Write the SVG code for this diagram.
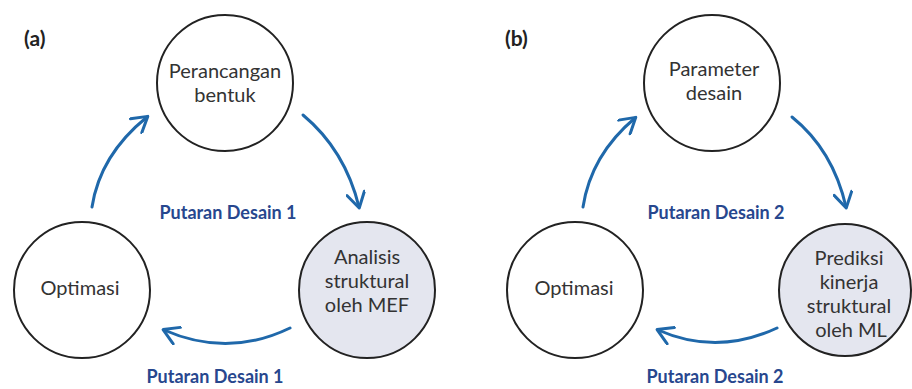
<svg xmlns="http://www.w3.org/2000/svg" width="912" height="389" viewBox="0 0 912 389">
  <style>
    .node { fill: #ffffff; stroke: #222222; stroke-width: 2; }
    .node.shaded { fill: #e4e6ef; }
    .ntxt { font-family: Lato, "Open Sans", sans-serif; font-size: 20px; fill: #333333; text-anchor: middle; }
    .panel { font-family: Lato, "Open Sans", sans-serif; font-size: 21px; font-weight: bold; fill: #222222; }
    .loop { font-family: Lato, "Open Sans", sans-serif; font-size: 18px; font-weight: bold; fill: #27478e; text-anchor: middle; }
    .arc { fill: none; stroke: #1f68aa; stroke-width: 3; stroke-linecap: round; marker-end: url(#chev); }
  </style>
  <defs>
    <marker id="chev" viewBox="0 0 20 20" refX="17" refY="10" markerWidth="20" markerHeight="20" markerUnits="userSpaceOnUse" orient="auto">
      <path d="M3,1 L18,10 L3,19" fill="none" stroke="#1f68aa" stroke-width="3" stroke-linecap="round" stroke-linejoin="round"/>
    </marker>
  </defs>
  <rect width="912" height="389" fill="#ffffff"/>

  <!-- panel labels -->
  <text class="panel" x="24" y="46">(a)</text>
  <text class="panel" x="505" y="46">(b)</text>

  <!-- connectors -->
  <g id="connectors">
    <path class="arc" d="M92,207 Q100,155 147,117"/>
    <path class="arc" d="M303,115 Q345,150 359,207"/>
    <path class="arc" d="M290,328 Q228,358 164,330"/>
    <path class="arc" d="M583,207 Q591,155 635,118"/>
    <path class="arc" d="M792,117 Q833,150 846,207"/>
    <path class="arc" d="M777,328 Q717,356 658,330"/>
  </g>

  <!-- loop labels -->
  <g id="labels">
    <text class="loop" x="228" y="219">Putaran Desain 1</text>
    <text class="loop" x="215" y="383">Putaran Desain 1</text>
    <text class="loop" x="716" y="219">Putaran Desain 2</text>
    <text class="loop" x="715" y="383">Putaran Desain 2</text>
  </g>

  <!-- panel (a) -->
  <g id="a-perancangan">
    <circle class="node" cx="225" cy="83" r="68"/>
    <text class="ntxt" x="225" y="78">Perancangan</text>
    <text class="ntxt" x="225" y="102">bentuk</text>
  </g>
  <g id="a-optimasi">
    <circle class="node" cx="82" cy="290" r="68"/>
    <text class="ntxt" x="80" y="295">Optimasi</text>
  </g>
  <g id="a-analisis">
    <circle class="node shaded" cx="367" cy="290" r="68"/>
    <text class="ntxt" x="367" y="264">Analisis</text>
    <text class="ntxt" x="367" y="288">struktural</text>
    <text class="ntxt" x="367" y="312">oleh MEF</text>
  </g>

  <!-- panel (b) -->
  <g id="b-parameter">
    <circle class="node" cx="712" cy="83" r="68"/>
    <text class="ntxt" x="714" y="76">Parameter</text>
    <text class="ntxt" x="714" y="100">desain</text>
  </g>
  <g id="b-optimasi">
    <circle class="node" cx="575" cy="290" r="68"/>
    <text class="ntxt" x="574" y="295">Optimasi</text>
  </g>
  <g id="b-prediksi">
    <circle class="node shaded" cx="845" cy="290" r="66"/>
    <text class="ntxt" x="849" y="265">Prediksi</text>
    <text class="ntxt" x="849" y="289">kinerja</text>
    <text class="ntxt" x="849" y="313">struktural</text>
    <text class="ntxt" x="851" y="337">oleh ML</text>
  </g>
</svg>
